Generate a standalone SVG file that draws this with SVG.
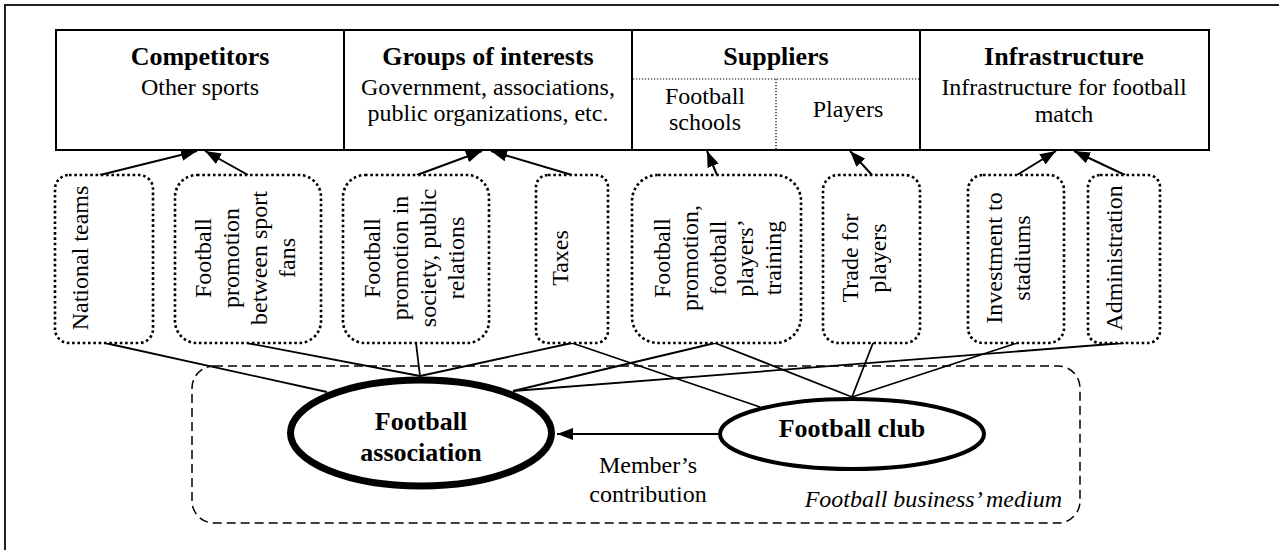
<svg xmlns="http://www.w3.org/2000/svg" width="1279" height="550" viewBox="0 0 1279 550" font-family="Liberation Serif, Times New Roman, DejaVu Serif, serif">
<defs>
<marker id="ah" viewBox="0 0 16 12" refX="16" refY="6" markerWidth="16" markerHeight="12" orient="auto" markerUnits="userSpaceOnUse">
<path d="M0,0 L16,6 L0,12 Z" fill="#000"/>
</marker>
</defs>
<style>
text{font-family:'Liberation Serif','Times New Roman','DejaVu Serif',serif;fill:#000}
.b{font-weight:bold;font-size:26px;text-anchor:middle}
.r{font-size:24px;text-anchor:middle}
.it{font-size:24px;font-style:italic;text-anchor:end}
.top{fill:#fff;stroke:#000;stroke-width:2}
.dot{fill:#fff;stroke:#000;stroke-width:2.6;stroke-dasharray:2.6 2.7}
.fine{fill:none;stroke:#000;stroke-width:1.2;stroke-dasharray:1.2 1.8}
.ln{fill:none;stroke:#000;stroke-width:1.8}
.arr{fill:none;stroke:#000;stroke-width:2;marker-end:url(#ah)}
</style>
<rect x="5" y="5" width="1300" height="570" fill="#fff" stroke="#222" stroke-width="2"/>

<g id="competitors">
<rect class="top" x="56" y="30" width="288" height="120"/>
<text class="b" x="200" y="65">Competitors</text>
<text class="r" x="200" y="95">Other sports</text>
</g>
<g id="groups">
<rect class="top" x="344" y="30" width="288" height="120"/>
<text class="b" x="488" y="65">Groups of interests</text>
<text class="r" x="488" y="95">Government, associations,</text>
<text class="r" x="488" y="121">public organizations, etc.</text>
</g>
<g id="suppliers">
<rect class="top" x="632" y="30" width="288" height="120"/>
<text class="b" x="776" y="65">Suppliers</text>
<line class="fine" x1="633" y1="79" x2="919" y2="79"/>
<line class="fine" x1="776" y1="79" x2="776" y2="149"/>
<text class="r" x="705" y="104">Football</text>
<text class="r" x="705" y="130">schools</text>
<text class="r" x="848" y="117">Players</text>
</g>
<g id="infrastructure">
<rect class="top" x="920" y="30" width="289" height="120"/>
<text class="b" x="1064" y="65">Infrastructure</text>
<text class="r" x="1064" y="95">Infrastructure for football</text>
<text class="r" x="1064" y="122">match</text>
</g>

<g id="medium">
<rect x="192" y="366" width="888" height="157" rx="22" ry="22" fill="none" stroke="#000" stroke-width="1.5" stroke-dasharray="9 5"/>
<text class="it" x="1062" y="507">Football business’ medium</text>
</g>

<g id="connectors">
<line class="arr" x1="100" y1="175" x2="197" y2="151"/>
<line class="arr" x1="248" y1="175" x2="205" y2="151"/>
<line class="arr" x1="417" y1="175" x2="482" y2="151"/>
<line class="arr" x1="572" y1="175" x2="491" y2="151"/>
<line class="arr" x1="717" y1="175" x2="707" y2="151"/>
<line class="arr" x1="872" y1="175" x2="850" y2="151"/>
<line class="arr" x1="1017" y1="175" x2="1056" y2="151"/>
<line class="arr" x1="1125" y1="175" x2="1074" y2="151"/>

<line class="ln" x1="105" y1="343" x2="327" y2="392"/>
<line class="ln" x1="247" y1="343" x2="420" y2="376"/>
<line class="ln" x1="416" y1="343" x2="420" y2="376"/>
<line class="ln" x1="572" y1="343" x2="420" y2="376"/>
<line class="ln" x1="572" y1="343" x2="760" y2="407"/>
<line class="ln" x1="715" y1="343" x2="513" y2="391"/>
<line class="ln" x1="715" y1="343" x2="852" y2="397"/>
<line class="ln" x1="873" y1="343" x2="852" y2="397"/>
<line class="ln" x1="1017" y1="343" x2="852" y2="397"/>
<line class="ln" x1="1124" y1="343" x2="513" y2="391"/>

<line class="arr" x1="718" y1="434" x2="557" y2="434" style="stroke-width:2.2"/>
<text class="r" x="648" y="473">Member’s</text>
<text class="r" x="648" y="502">contribution</text>
</g>

<g id="n-national">
<rect class="dot" x="55" y="175" width="98" height="168" rx="14"/>
<text class="r" transform="translate(88,258) rotate(-90)">National teams</text>
</g>
<g id="n-fans">
<rect class="dot" x="175" y="175" width="146" height="168" rx="22"/>
<g transform="translate(0,258)">
<text class="r" transform="translate(211,0) rotate(-90)">Football</text>
<text class="r" transform="translate(239,0) rotate(-90)">promotion</text>
<text class="r" transform="translate(267,0) rotate(-90)">between sport</text>
<text class="r" transform="translate(295,0) rotate(-90)">fans</text>
</g>
</g>
<g id="n-society">
<rect class="dot" x="343" y="175" width="146" height="168" rx="22"/>
<g transform="translate(0,258)">
<text class="r" transform="translate(380,0) rotate(-90)">Football</text>
<text class="r" transform="translate(408,0) rotate(-90)">promotion in</text>
<text class="r" transform="translate(436,0) rotate(-90)">society, public</text>
<text class="r" transform="translate(464,0) rotate(-90)">relations</text>
</g>
</g>
<g id="n-taxes">
<rect class="dot" x="536" y="175" width="72" height="168" rx="12"/>
<text class="r" transform="translate(568,258) rotate(-90)">Taxes</text>
</g>
<g id="n-training">
<rect class="dot" x="632" y="175" width="169" height="168" rx="26"/>
<g transform="translate(0,258)">
<text class="r" transform="translate(670,0) rotate(-90)">Football</text>
<text class="r" transform="translate(698,0) rotate(-90)">promotion,</text>
<text class="r" transform="translate(726,0) rotate(-90)">football</text>
<text class="r" transform="translate(753,0) rotate(-90)">players’</text>
<text class="r" transform="translate(781,0) rotate(-90)">training</text>
</g>
</g>
<g id="n-trade">
<rect class="dot" x="823" y="175" width="97" height="168" rx="15"/>
<g transform="translate(0,258)">
<text class="r" transform="translate(858,0) rotate(-90)">Trade for</text>
<text class="r" transform="translate(886,0) rotate(-90)">players</text>
</g>
</g>
<g id="n-investment">
<rect class="dot" x="968" y="175" width="96" height="168" rx="15"/>
<g transform="translate(0,258)">
<text class="r" transform="translate(1002,0) rotate(-90)">Investment to</text>
<text class="r" transform="translate(1030,0) rotate(-90)">stadiums</text>
</g>
</g>
<g id="n-admin">
<rect class="dot" x="1088" y="175" width="72" height="168" rx="12"/>
<text class="r" transform="translate(1122,258) rotate(-90)">Administration</text>
</g>

<g id="football-association">
<ellipse cx="421" cy="433" rx="130.5" ry="53" fill="#fff" stroke="#000" stroke-width="7"/>
<text class="b" x="421" y="430">Football</text>
<text class="b" x="421" y="461">association</text>
</g>
<g id="football-club">
<ellipse cx="852" cy="434" rx="132" ry="35" fill="#fff" stroke="#000" stroke-width="4"/>
<text class="b" x="852" y="437">Football club</text>
</g>
</svg>
